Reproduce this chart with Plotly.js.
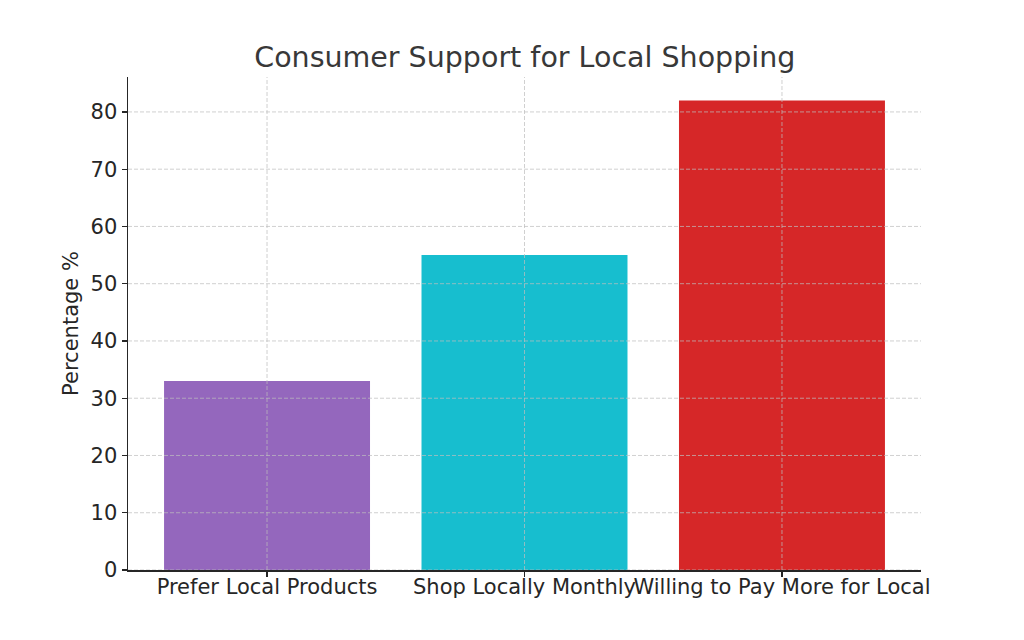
<!DOCTYPE html>
<html>
<head>
<meta charset="utf-8">
<script src="https://cdn.plot.ly/plotly-3.0.1.min.js"></script>
<style>
  html, body { margin: 0; padding: 0; background: #fff; }
  #chart { width: 1024px; height: 640px; }
</style>
</head>
<body>
<div id="chart"></div>
<script>
// chart data
var categories = ['Prefer Local Products', 'Shop Locally Monthly', 'Willing to Pay More for Local'];
var percentages = [33, 55, 82];
var barColors = ['#9467bd', '#17becf', '#d62728'];
var yTicks = [0, 10, 20, 30, 40, 50, 60, 70, 80];

var font = 'DejaVu Sans, sans-serif';
var textColor = '#262626';
var gridColor = 'rgba(190,190,190,0.8)';

var trace1 = {
    x: categories,
    y: percentages,
    type: 'bar',
    width: 0.8,
    marker: { color: barColors, line: { width: 0 } },
    hoverinfo: 'skip'
};

// dashed grid on top of the bars, like the original
var gridShapes = [];
yTicks.forEach(function (t) {
    gridShapes.push({
        type: 'line', layer: 'above', xref: 'paper', yref: 'y',
        x0: 0, x1: 1, y0: t, y1: t,
        line: { color: gridColor, width: 0.9, dash: '4px,2px' }
    });
});
categories.forEach(function (c, i) {
    gridShapes.push({
        type: 'line', layer: 'above', xref: 'x', yref: 'paper',
        x0: i, x1: i, y0: 0, y1: 1,
        line: { color: gridColor, width: 0.9, dash: '4px,2px' }
    });
});

var layout = {
    width: 1024,
    height: 640,
    margin: { l: 128, r: 103, t: 77, b: 70 },
    paper_bgcolor: '#fff',
    plot_bgcolor: '#fff',
    showlegend: false,
    font: { family: font, color: textColor, size: 21 },
    title: {
        text: 'Consumer Support for Local Shopping',
        font: { family: font, size: 28.5, color: '#383838' },
        x: 0.5125, xanchor: 'center',
        yref: 'container', y: 1 - 57 / 640, yanchor: 'middle'
    },
    xaxis: {
        range: [-0.54, 2.54],
        showgrid: false,
        zeroline: false,
        showline: true, linecolor: textColor, linewidth: 1.5,
        ticks: 'outside', ticklen: 5, tickwidth: 1.2, tickcolor: textColor,
        tickangle: 0,
        ticklabelstandoff: -8,
        tickfont: { family: font, size: 21, color: textColor },
        layer: 'above traces'
    },
    yaxis: {
        range: [0, 86.1],
        tickvals: yTicks,
        showgrid: false,
        zeroline: false,
        showline: true, linecolor: textColor, linewidth: 1.5,
        ticks: 'outside', ticklen: 5, tickwidth: 1.2, tickcolor: textColor,
        tickfont: { family: font, size: 21, color: textColor },
        title: { text: 'Percentage %', font: { family: font, size: 21, color: textColor }, standoff: 6 },
        layer: 'above traces'
    },
    shapes: gridShapes,
    bargap: 0.2
};

Plotly.newPlot('chart', [trace1], layout, { displayModeBar: false, staticPlot: true });
</script>
</body>
</html>
